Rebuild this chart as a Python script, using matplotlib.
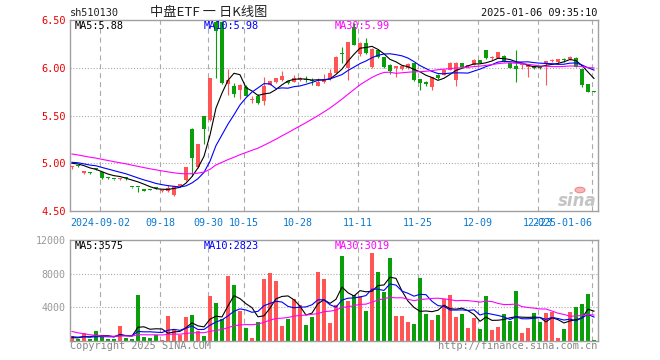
import numpy as np
import matplotlib.pyplot as plt
from matplotlib.patches import Circle

# ---------------------------------------------------------------------------
# DATA  (sh510130 daily K line)
# ---------------------------------------------------------------------------
dates = ['2024-08-26', '2024-08-27', '2024-08-28', '2024-08-29', '2024-08-30',
         '2024-09-02', '2024-09-03', '2024-09-04', '2024-09-05', '2024-09-06',
         '2024-09-09', '2024-09-10', '2024-09-11', '2024-09-12', '2024-09-13',
         '2024-09-18', '2024-09-19', '2024-09-20',
         '2024-09-23', '2024-09-24', '2024-09-25', '2024-09-26', '2024-09-27',
         '2024-09-30',
         '2024-10-08', '2024-10-09', '2024-10-10', '2024-10-11',
         '2024-10-14', '2024-10-15', '2024-10-16', '2024-10-17', '2024-10-18',
         '2024-10-21', '2024-10-22', '2024-10-23', '2024-10-24', '2024-10-25',
         '2024-10-28', '2024-10-29', '2024-10-30', '2024-10-31',
         '2024-11-01',
         '2024-11-04', '2024-11-05', '2024-11-06', '2024-11-07', '2024-11-08',
         '2024-11-11', '2024-11-12', '2024-11-13', '2024-11-14', '2024-11-15',
         '2024-11-18', '2024-11-19', '2024-11-20', '2024-11-21', '2024-11-22',
         '2024-11-25', '2024-11-26', '2024-11-27', '2024-11-28', '2024-11-29',
         '2024-12-02', '2024-12-03', '2024-12-04', '2024-12-05', '2024-12-06',
         '2024-12-09', '2024-12-10', '2024-12-11', '2024-12-12', '2024-12-13',
         '2024-12-16', '2024-12-17', '2024-12-18', '2024-12-19', '2024-12-20',
         '2024-12-23', '2024-12-24', '2024-12-25', '2024-12-26', '2024-12-27',
         '2024-12-30', '2024-12-31',
         '2025-01-02', '2025-01-03', '2025-01-06']

opens = [4.96, 4.975, 4.90, 4.90, 4.945,
         4.905, 4.85, 4.835, 4.835, 4.85,
         4.755, 4.755, 4.73, 4.725, 4.745,
         4.705, 4.71, 4.665,
         4.76, 4.82, 5.36, 4.965, 5.495,
         5.45,
         6.48, 6.48, 5.83, 5.81,
         5.765, 5.80, 5.66, 5.705, 5.655,
         5.82, 5.85, 5.87, 5.86, 5.85,
         5.87, 5.885, 5.87, 5.81,
         5.85,
         5.88, 5.95, 6.145, 6.00, 6.43,
         6.14, 6.26, 6.01, 6.19, 6.11,
         6.03, 6.00, 5.985, 6.00, 6.045,
         5.88, 5.84, 5.80, 5.92, 5.925,
         5.98, 5.87, 6.045, 6.015, 6.03,
         6.08, 6.185, 6.10, 6.105, 6.125,
         6.045, 6.02, 6.03, 6.01, 6.015,
         6.00, 6.04, 6.075, 6.055, 6.085,
         6.09, 6.105,
         5.985, 5.83, 5.75]

highs = [4.97, 4.98, 4.92, 4.905, 4.95,
         4.91, 4.855, 4.84, 4.85, 4.86,
         4.755, 4.755, 4.735, 4.73, 4.75,
         4.725, 4.775, 4.765,
         4.785, 4.965, 5.365, 5.205, 5.50,
         5.89,
         6.50, 6.49, 5.99, 5.84,
         5.83, 5.82, 5.70, 5.73, 5.905,
         5.865, 5.895, 5.965, 5.865, 5.92,
         5.90, 5.915, 5.89, 5.89,
         5.93,
         5.99, 6.12, 6.22, 6.27, 6.47,
         6.27, 6.31, 6.21, 6.20, 6.115,
         6.035, 6.02, 6.02, 6.05, 6.05,
         5.88, 5.86, 5.90, 5.93, 5.99,
         6.055, 6.06, 6.05, 6.03, 6.09,
         6.085, 6.19, 6.12, 6.17, 6.13,
         6.05, 6.19, 6.045, 6.04, 6.02,
         6.005, 6.075, 6.09, 6.095, 6.10,
         6.125, 6.11,
         5.99, 5.835, 5.755]

lows = [4.945, 4.965, 4.89, 4.89, 4.93,
        4.84, 4.84, 4.82, 4.82, 4.825,
        4.74, 4.70, 4.705, 4.715, 4.73,
        4.695, 4.70, 4.655,
        4.755, 4.81, 4.87, 4.95, 5.20,
        5.44,
        5.89, 5.83, 5.715, 5.69,
        5.67, 5.70, 5.63, 5.62, 5.61,
        5.815, 5.845, 5.865, 5.83, 5.85,
        5.865, 5.85, 5.82, 5.81,
        5.845,
        5.875, 5.94, 6.05, 5.87, 6.24,
        6.12, 6.14, 6.00, 6.10, 6.00,
        5.935, 5.90, 5.975, 5.99, 5.865,
        5.77, 5.81, 5.77, 5.885, 5.92,
        5.975, 5.81, 6.005, 6.00, 6.025,
        6.045, 6.095, 6.08, 6.10, 6.06,
        5.995, 5.855, 5.985, 5.905, 5.99,
        5.985, 5.82, 6.065, 6.05, 6.06,
        6.085, 6.005,
        5.80, 5.745, 5.745]

closes = [4.965, 4.97, 4.915, 4.895, 4.935,
          4.845, 4.845, 4.83, 4.85, 4.845,
          4.75, 4.75, 4.71, 4.72, 4.74,
          4.72, 4.74, 4.76,
          4.78, 4.96, 5.06, 5.20, 5.36,
          5.89,
          6.38, 5.84, 5.87, 5.73,
          5.815, 5.705, 5.665, 5.635, 5.81,
          5.86, 5.89, 5.91, 5.84, 5.89,
          5.89, 5.875, 5.86, 5.855,
          5.88,
          5.94, 6.115, 6.14, 6.27, 6.24,
          6.26, 6.15, 6.20, 6.11, 6.01,
          5.97, 6.02, 6.015, 6.04, 5.87,
          5.845, 5.835, 5.90, 5.89, 5.98,
          6.045, 6.045, 6.01, 6.02, 6.08,
          6.05, 6.10, 6.105, 6.16, 6.065,
          6.00, 5.99, 6.035, 6.035, 5.995,
          5.995, 6.07, 6.078, 6.09, 6.08,
          6.115, 6.01,
          5.82, 5.75, 5.745]

volumes = [640, 280, 1000, 270, 1160,
           520, 250, 250, 1770, 400,
           250, 5490, 520, 330, 670,
           150, 2950, 1250,
           700, 2820, 3070, 1150, 640,
           5290,
           4560, 2660, 7710, 6700,
           3550, 1530, 320, 2260, 7310,
           8070, 7100, 1730, 2580, 5000,
           4280, 1850, 2860, 8190,
           7310,
           2130, 4280, 10130, 4800, 5410,
           5290, 3590, 10460, 8190, 5770,
           9850, 2950, 2950, 2220, 1980,
           7500, 3190, 2540, 3070, 4970,
           5450, 2860, 3190, 1530, 2740,
           1370, 5370, 1250, 1610, 3190,
           2380, 5970, 1000, 1490, 3350,
           2220, 3300, 3500, 320, 1370,
           3450, 4050,
           4450, 5600, 160]

# the 29 sessions before the window, only needed to start the moving averages
prior_close = [5.28, 5.26, 5.25, 5.23, 5.22, 5.21, 5.20, 5.19, 5.18, 5.175,
               5.12, 5.10, 5.09, 5.07, 5.06,
               5.05, 5.04, 5.03, 5.03, 5.025,
               5.02, 5.03, 5.02, 5.01, 5.02,
               5.01, 5.00, 5.015, 5.01]
prior_volume = [5000, 4500, 3800, 3200, 2500,
                900, 700, 600, 800, 500, 650, 700, 550, 600, 750, 650, 600, 700, 550, 650,
                700, 500, 800, 600, 400,
                400, 300, 350, 310]

tick_dates = ['2024-09-02', '2024-09-18', '2024-09-30', '2024-10-15', '2024-10-28',
              '2024-11-11', '2024-11-25', '2024-12-09', '2024-12-23', '2025-01-06']
tick_labels = ['2024-09-02', '09-18', '09-30', '10-15', '10-28',
               '11-11', '11-25', '12-09', '12-23', '2025-01-06']

price_ticks = [4.50, 5.00, 5.50, 6.00, 6.50]
vol_ticks = [0, 4000, 8000, 12000]

ma_price_text = ['MA5:5.88', 'MA10:5.98', 'MA30:5.99']
ma_vol_text = ['MA5:3575', 'MA10:2823', 'MA30:3019']

# ---------------------------------------------------------------------------
# STYLE
# ---------------------------------------------------------------------------
RED = '#ff5555'
GREEN = '#0a9e0a'
MA_COLORS = ['#000000', '#0000ff', '#ff00ff']
GRID = '#aaaaaa'
MONO = 'DejaVu Sans Mono'
W, H = 660, 360


def fx(px):
    return px / W


def fy(py):
    return 1 - py / H


def sma(prior, vals, n):
    s = np.array(prior + vals, dtype=float)
    return np.convolve(s, np.ones(n) / n, mode='valid')[-len(vals):]


x = np.arange(len(dates))
o, h, l, c = map(np.array, (opens, highs, lows, closes))
up = c >= o
colors = np.where(up, RED, GREEN)

fig = plt.figure(figsize=(6.6, 3.6), dpi=100)
ax = fig.add_axes([fx(70), fy(211), fx(598) - fx(70), fy(20) - fy(211)])
axv = fig.add_axes([fx(70), fy(341), fx(598) - fx(70), fy(240) - fy(341)])

xlim = (-0.33, len(dates) - 1 + 0.67)
tick_pos = [dates.index(d) - 0.33 for d in tick_dates]

for a in (ax, axv):
    a.set_xlim(*xlim)
    a.set_xticks(tick_pos)
    a.grid(axis='x', color=GRID, linestyle=(0, (4.5, 3.5)), linewidth=0.8)
    a.set_axisbelow(True)
    for s in a.spines.values():
        s.set_color('#a0a0a0')
        s.set_linewidth(1.0)
    a.tick_params(length=0)

# --- candles
ax.vlines(x, l, h, colors=colors, linewidth=0.8, zorder=2)
body = np.maximum(np.abs(c - o), 0.011)
ax.bar(x, body, bottom=np.minimum(o, c), width=0.8, color=colors, linewidth=0, zorder=3)

for n, col in zip([5, 10, 30], MA_COLORS):
    ax.plot(x, sma(prior_close, closes, n), color=col, linewidth=0.8, zorder=4)

ax.set_ylim(4.5, 6.5)
ax.set_yticks(price_ticks)
ax.set_yticklabels(['%.2f' % v for v in price_ticks], color='#ee0000',
                   family=MONO, fontsize=7.4)
for v in price_ticks[1:-1]:
    ax.axhline(v, color=GRID, linestyle=(0, (1, 1.6)), linewidth=0.8, zorder=0)

ax.set_xticklabels(tick_labels, color='#0a78d0', family=MONO, fontsize=7.2)
ax.tick_params(axis='x', pad=5)
ax.tick_params(axis='y', pad=3)
ax.get_xticklabels()[-1].set_ha('right')

# --- volume
axv.bar(x, volumes, width=0.82, color=colors, linewidth=0, zorder=2)
for n, col in zip([5, 10, 30], MA_COLORS):
    axv.plot(x, sma(prior_volume, volumes, n), color=col, linewidth=0.8, zorder=3)
axv.set_ylim(0, 12000)
axv.set_yticks(vol_ticks[1:])
axv.set_yticklabels([str(v) for v in vol_ticks[1:]], color='#999999',
                    family=MONO, fontsize=7.2)
axv.tick_params(axis='y', pad=3)
axv.set_xticklabels([])
for v in vol_ticks[1:-1]:
    axv.axhline(v, color=GRID, linestyle=(0, (1, 1.6)), linewidth=0.8, zorder=0)

# --- texts
fig.text(fx(70), fy(13), 'sh510130', family=MONO, fontsize=7.4, color='#222222', va='center')
fig.text(fx(209), fy(12.5), '中盘ETF 一 日K线图', family=['Noto Sans CJK SC', 'DejaVu Sans'],
         fontsize=9.5, color='#222222', ha='center', va='center')
fig.text(fx(597), fy(13), '2025-01-06 09:35:10', family=MONO, fontsize=7.4,
         color='#111111', ha='right', va='center')

for txt, col, px in zip(ma_price_text, MA_COLORS, [75, 204, 335]):
    fig.text(fx(px), fy(26), txt, family=MONO, fontsize=7.4, color=col, va='center')
for txt, col, px in zip(ma_vol_text, MA_COLORS, [75, 204, 335]):
    fig.text(fx(px), fy(246), txt, family=MONO, fontsize=7.4, color=col, va='center')

fig.text(fx(70), fy(346), 'Copyright 2025 SINA.COM', family=MONO, fontsize=7.4,
         color='#888888', va='center')
fig.text(fx(597), fy(346), 'http://finance.sina.com.cn', family=MONO, fontsize=7.4,
         color='#888888', ha='right', va='center')

# sina watermark
fig.text(fx(597), fy(201), 'sina', fontsize=12, style='italic', weight='bold',
         color='#c4c4c4', ha='right', va='center')
fig.patches.append(Circle((fx(580), fy(190)), 5 / W, transform=fig.transFigure,
                          facecolor='#f6b8b8', edgecolor='#f08a8a', linewidth=0.8))

fig.savefig('out.png', dpi=100)
